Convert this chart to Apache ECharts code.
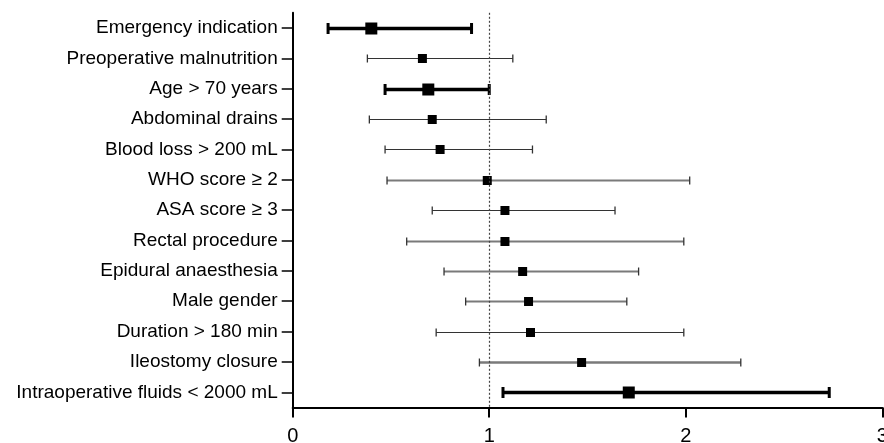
<!DOCTYPE html>
<html>
<head>
<meta charset="utf-8">
<script src="https://cdn.jsdelivr.net/npm/echarts@6/dist/echarts.min.js"></script>
<style>
  html, body { margin: 0; padding: 0; background: #fff; }
  #chart { width: 884px; height: 443px; }
</style>
</head>
<body>
<div id="chart"></div>
<script>
// risk factors, top to bottom
var factors = [
  'Emergency indication',
  'Preoperative malnutrition',
  'Age > 70 years',
  'Abdominal drains',
  'Blood loss > 200 mL',
  'WHO score \u2265 2',
  'ASA score \u2265 3',
  'Rectal procedure',
  'Epidural anaesthesia',
  'Male gender',
  'Duration > 180 min',
  'Ileostomy closure',
  'Intraoperative fluids < 2000 mL'
];
var oddsRatio = [0.40, 0.66, 0.69, 0.71, 0.75, 0.99, 1.08, 1.08, 1.17, 1.20, 1.21, 1.47, 1.71];
var ciLower   = [0.18, 0.38, 0.47, 0.39, 0.47, 0.48, 0.71, 0.58, 0.77, 0.88, 0.73, 0.95, 1.07];
var ciUpper   = [0.91, 1.12, 1.00, 1.29, 1.22, 2.02, 1.64, 1.99, 1.76, 1.70, 1.99, 2.28, 2.73];
var xTicks = [0, 1, 2, 3];
// significant rows drawn bold
var significant = ['Emergency indication', 'Age > 70 years', 'Intraoperative fluids < 2000 mL'];
// rows whose whisker looks grey in the original
var greyRows = ['WHO score \u2265 2', 'Rectal procedure', 'Epidural anaesthesia', 'Male gender', 'Ileostomy closure'];

var chartDom = document.getElementById('chart');
var myChart = echarts.init(chartDom);

var rows = factors.map(function (f, i) {
  return [i, oddsRatio[i], ciLower[i], ciUpper[i]];
});

function renderItem(params, api) {
  var idx = api.value(0);
  var name = factors[idx];
  var bold = significant.indexOf(name) >= 0;
  var gray = greyRows.indexOf(name) >= 0;
  var pLo = api.coord([api.value(2), idx]);
  var pHi = api.coord([api.value(3), idx]);
  var pMid = api.coord([api.value(1), idx]);
  var lw = bold ? 3.5 : (name === 'Ileostomy closure' ? 2.4 : (gray ? 1.8 : 1.2));
  var col = bold ? '#000' : (gray ? '#7a7a7a' : '#333');
  var capH = bold ? 11 : 8;
  var capW = bold ? 3 : 1.3;
  var sq = bold ? 12 : 9;
  var y = Math.round(pMid[1]) + 0.5;
  return {
    type: 'group',
    children: [
      { type: 'line', shape: { x1: pLo[0], y1: y, x2: pHi[0], y2: y },
        style: { stroke: col, lineWidth: lw } },
      { type: 'line', shape: { x1: pLo[0], y1: y - capH / 2, x2: pLo[0], y2: y + capH / 2 },
        style: { stroke: bold ? '#000' : '#333', lineWidth: capW } },
      { type: 'line', shape: { x1: pHi[0], y1: y - capH / 2, x2: pHi[0], y2: y + capH / 2 },
        style: { stroke: bold ? '#000' : '#333', lineWidth: capW } },
      { type: 'rect', shape: { x: pMid[0] - sq / 2, y: y - sq / 2, width: sq, height: sq },
        style: { fill: '#000' } }
    ]
  };
}

var option = {
  animation: false,
  textStyle: { fontFamily: 'Liberation Sans, Arial, sans-serif' },
  grid: {
    left: 292.7, right: 1.7, top: 12.8, bottom: 35.5,
    containLabel: false,
    outerBoundsMode: 'none'
  },
  xAxis: {
    type: 'value',
    min: 0,
    max: 3,
    interval: 1,
    splitLine: { show: false },
    axisLine: { show: true, lineStyle: { color: '#000', width: 2 } },
    axisTick: { show: true, length: 10, lineStyle: { color: '#000', width: 2 } },
    axisLabel: {
      color: '#000', fontSize: 20, margin: 19,
      formatter: function (v) { return xTicks.indexOf(v) >= 0 ? String(v) : ''; }
    }
  },
  yAxis: {
    type: 'category',
    data: factors,
    inverse: true,
    axisLine: { show: true, lineStyle: { color: '#000', width: 2 } },
    axisTick: { show: true, alignWithLabel: true, length: 11, lineStyle: { color: '#000', width: 1.5 } },
    axisLabel: { color: '#000', fontSize: 19, margin: 15 }
  },
  series: [
    {
      type: 'custom',
      renderItem: renderItem,
      encode: { x: [1, 2, 3], y: 0 },
      data: rows,
      z: 3,
      markLine: {
        silent: true,
        symbol: 'none',
        label: { show: false },
        lineStyle: { color: '#444', type: [2, 2], width: 1.2 },
        data: [{ xAxis: 1 }]
      }
    }
  ]
};

myChart.setOption(option);

window.onresize = () => {
  myChart.resize();
}
</script>
</body>
</html>
